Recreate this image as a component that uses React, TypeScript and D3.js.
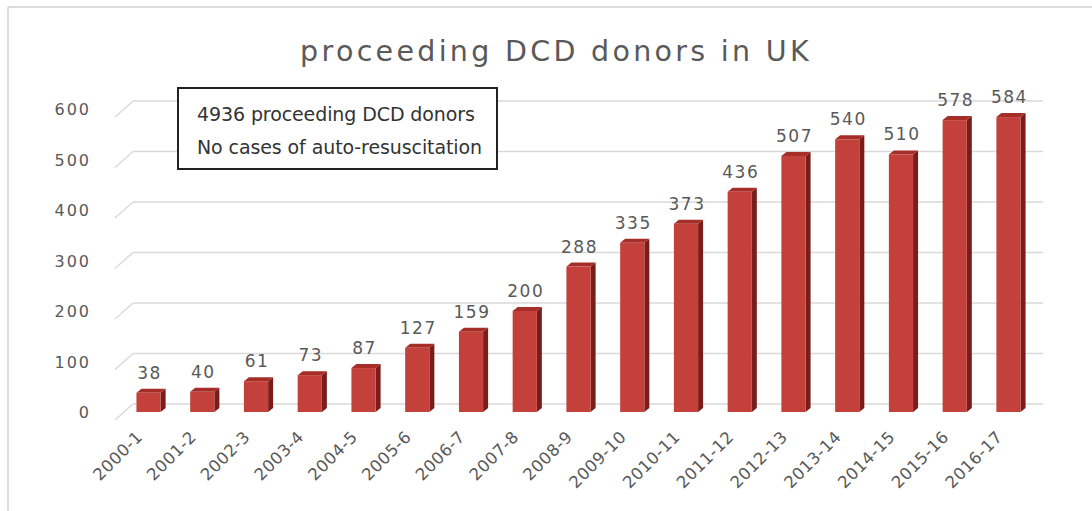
import React from "react";
import * as d3 from "d3";

const categories = ["2000-1","2001-2","2002-3","2003-4","2004-5","2005-6","2006-7","2007-8","2008-9","2009-10","2010-11","2011-12","2012-13","2013-14","2014-15","2015-16","2016-17"];
const donors = [38,40,61,73,87,127,159,200,288,335,373,436,507,540,510,578,584];
const yTicks = [0,100,200,300,400,500,600];
const title = "proceeding DCD donors in UK";
const noteLines = ["4936 proceeding DCD donors","No cases of auto-resuscitation"];

const W = 1092, H = 511;
const FONT = "'DejaVu Sans', sans-serif";

export default function App() {
  const x = d3.scaleBand<string>().domain(categories).range([123, 1034]).paddingInner(0.55).paddingOuter(0.25);
  const yFront = d3.scaleLinear().domain([0, 600]).range([412, 109]);
  const depthX = 18, depthY = 8;
  const yBack = (v: number) => yFront(v) - depthY;
  const sideW = 5, topH = 4;
  const gridLeft = 133, gridRight = 1043;

  return (
    <svg width={W} height={H} style={{ position: "absolute", left: 0, top: 0, background: "#fff" }}>
      <rect x={0} y={0} width={W} height={H} fill="#fff" />
      <line x1={8} y1={7} x2={W} y2={7} stroke="#d0d0d0" strokeWidth={1.5} />
      <line x1={8} y1={7} x2={8} y2={H} stroke="#d0d0d0" strokeWidth={1.5} />
      <text x={556} y={61} textAnchor="middle" fontFamily={FONT} fontSize={28.5} fill="#595959" letterSpacing={3.3}>{title}</text>
      {/* gridlines */}
      {yTicks.map(t => (
        <g key={t}>
          <line x1={gridLeft - depthX} y1={yBack(t) + 16} x2={gridLeft} y2={yBack(t)} stroke="#d9d9d9" strokeWidth={1.3} />
          <line x1={gridLeft} y1={yBack(t)} x2={gridRight} y2={yBack(t)} stroke="#d9d9d9" strokeWidth={1.3} />
          <text x={91} y={yFront(t) + 6} textAnchor="end" fontFamily={FONT} fontSize={16} fill="#595959" letterSpacing={2}>{t}</text>
        </g>
      ))}
      {/* bars */}
      {categories.map((c, i) => {
        const v = donors[i];
        const x0 = x(c)!;
        const bw = x.bandwidth();
        const x1 = x0 + bw;
        const yt = yFront(v);
        const yb = yFront(0);
        return (
          <g key={c}>
            <polygon points={`${x1},${yt} ${x1 + sideW},${yt - topH} ${x1 + sideW},${yb - topH} ${x1},${yb}`} fill="#7a1c19" />
            <polygon points={`${x0},${yt} ${x0 + sideW},${yt - topH} ${x1 + sideW},${yt - topH} ${x1},${yt}`} fill="#a52e29" />
            <rect x={x0} y={yt} width={bw} height={yb - yt} fill="#c3413a" />
            <text x={x0 + bw / 2 + 1} y={yt - 14} textAnchor="middle" fontFamily={FONT} fontSize={17} fill="#595959" letterSpacing={1.5}>{v}</text>
            <text transform={`translate(${x0 + bw / 2 - 5},${438}) rotate(-45)`} textAnchor="end" fontFamily={FONT} fontSize={16.5} fill="#595959" letterSpacing={0.5}>{c}</text>
          </g>
        );
      })}
      {/* annotation */}
      <rect x={178} y={88} width={319} height={81} fill="#fff" stroke="#222" strokeWidth={2} />
      {noteLines.map((l, i) => (
        <text key={i} x={197} y={121 + i * 33} fontFamily={FONT} fontSize={19} fill="#333" letterSpacing={-0.1}>{l}</text>
      ))}
    </svg>
  );
}
